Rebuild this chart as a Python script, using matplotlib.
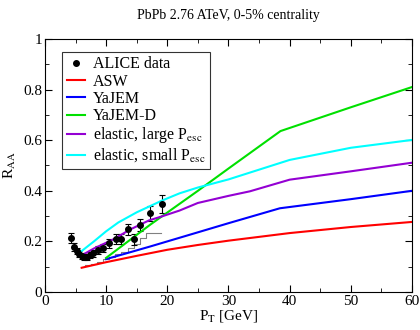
import matplotlib
matplotlib.use("Agg")
import matplotlib.pyplot as plt
from matplotlib.ticker import MultipleLocator, FuncFormatter
from matplotlib.lines import Line2D

plt.rcParams['font.family'] = ['Liberation Serif', 'DejaVu Serif']
plt.rcParams['mathtext.fontset'] = 'stix'

# ALICE data
alice_pt = [4.25, 4.8, 5.2, 5.55, 6.0, 6.4, 6.8, 7.35, 7.9, 8.6, 9.5, 10.5,
            11.6, 12.4, 13.5, 14.5, 15.5, 17.1, 19.1]
alice_raa = [0.215, 0.179, 0.163, 0.150, 0.142, 0.137, 0.140, 0.146, 0.153,
             0.166, 0.175, 0.192, 0.211, 0.211, 0.248, 0.208, 0.265, 0.311, 0.347]
alice_err = [0.02, 0.015, 0.013, 0.012, 0.012, 0.012, 0.012, 0.012, 0.013,
             0.014, 0.015, 0.017, 0.02, 0.02, 0.022, 0.022, 0.025, 0.03, 0.035]

# gray staircase
hist_edges = [6.5, 7.5, 8.5, 9.5, 10.5, 11.5, 12.5, 13.5, 14.5, 15.5, 16.5, 19.0]
hist_vals = [0.105, 0.112, 0.12, 0.13, 0.14, 0.15, 0.16, 0.175, 0.19, 0.212, 0.232]

# model curves
asw_pt = [6, 10, 15, 20, 25, 30, 40, 50, 60]
asw_raa = [0.096, 0.118, 0.143, 0.167, 0.186, 0.203, 0.233, 0.257, 0.277]

yajem_pt = [10, 17.2, 25, 30, 38.4, 50, 60]
yajem_raa = [0.130, 0.180, 0.236, 0.272, 0.331, 0.367, 0.400]

yajemd_pt = [10, 17.2, 25, 30, 38.5, 50, 60]
yajemd_raa = [0.135, 0.266, 0.40, 0.488, 0.636, 0.73, 0.81]

el_large_pt = [6, 8, 11, 14, 17, 19, 22, 25, 30, 33.5, 40, 50, 60]
el_large_raa = [0.145, 0.172, 0.206, 0.248, 0.283, 0.298, 0.322, 0.352, 0.38,
                0.398, 0.444, 0.477, 0.511]

el_small_pt = [6, 8, 10, 12, 15, 19, 22, 25, 30, 33.5, 40, 50, 60]
el_small_raa = [0.162, 0.20, 0.24, 0.275, 0.315, 0.36, 0.39, 0.413, 0.445,
                0.472, 0.522, 0.57, 0.601]

fig = plt.figure(figsize=(4.2, 3.3), dpi=100)
ax = fig.add_axes([0.107, 0.115, 0.874, 0.767])

ax.step(hist_edges, hist_vals + [hist_vals[-1]], where='post', color='gray', lw=0.8)

ax.errorbar(alice_pt, alice_raa, yerr=alice_err, fmt='o', color='black',
            ms=4, elinewidth=0.8, capsize=2.5, capthick=0.8)
l1, = ax.plot(asw_pt, asw_raa, color='#ff0000', lw=1.5)
l2, = ax.plot(yajem_pt, yajem_raa, color='#0000ff', lw=1.5)
l3, = ax.plot(yajemd_pt, yajemd_raa, color='#00e000', lw=1.5)
l4, = ax.plot(el_large_pt, el_large_raa, color='#9400d3', lw=1.5)
l5, = ax.plot(el_small_pt, el_small_raa, color='#00ffff', lw=1.5)

ax.set_xlim(0, 60)
ax.set_ylim(0, 1)
ax.xaxis.set_major_locator(MultipleLocator(10))
ax.xaxis.set_minor_locator(MultipleLocator(5))
ax.yaxis.set_major_locator(MultipleLocator(0.2))
ax.yaxis.set_minor_locator(MultipleLocator(0.1))
ax.yaxis.set_major_formatter(FuncFormatter(lambda v, p: '%g' % round(v, 1)))
ax.tick_params(which='both', direction='in', top=True, right=True, labelsize=11, pad=2)
ax.tick_params(which='major', length=5)
ax.tick_params(which='minor', length=3)

ax.set_xlabel(r'P$_{\rm T}$ [GeV]', fontsize=11, labelpad=0)
ax.set_ylabel(r'R$_{\rm AA}$', fontsize=11, labelpad=4)
ax.set_title('PbPb 2.76 ATeV, 0-5% centrality', fontsize=10, pad=14)

dot = Line2D([], [], marker='o', ms=4, color='black', ls='none')
handles = [dot, l1, l2, l3, l4, l5]
labels = ['ALICE data', 'ASW', 'YaJEM', 'YaJEM-D',
          r'elastic, large P$_{\rm esc}$', r'elastic, small P$_{\rm esc}$']
leg = ax.legend(handles, labels, loc='upper left', bbox_to_anchor=(0.047, 0.95),
                fontsize=11.5, frameon=True, fancybox=False, edgecolor='black',
                handlelength=1.1, handletextpad=0.5, labelspacing=0.08,
                borderpad=0.3, borderaxespad=0)
leg.get_frame().set_linewidth(0.8)

fig.savefig('out.png', dpi=100)
